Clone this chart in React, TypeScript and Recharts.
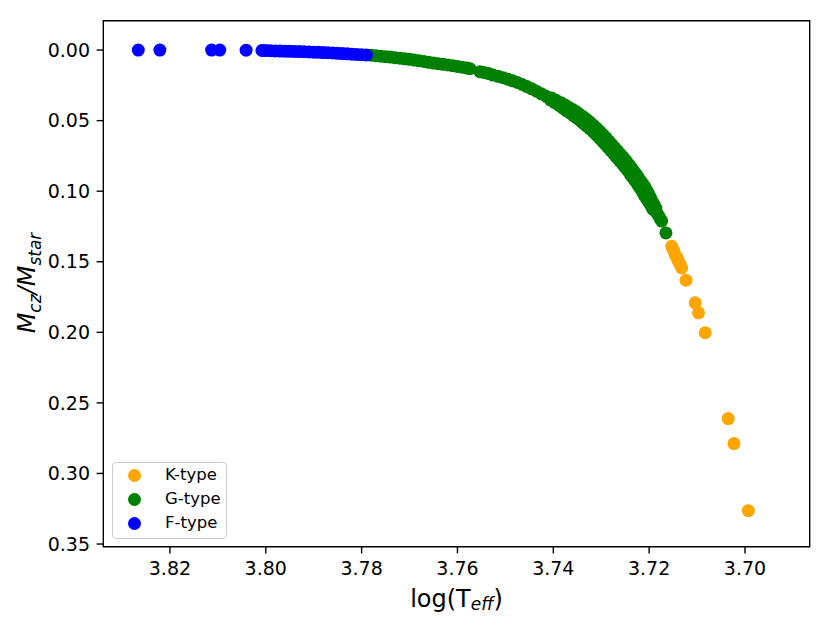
import React from 'react';
import { ScatterChart, Scatter, XAxis, YAxis, Legend, ReferenceArea } from 'recharts';

// ---- data (log Teff, Mcz/Mstar) ----
const kTypePoints: number[][] = [
  [3.7153, 0.1391], [3.7149, 0.1420], [3.7146, 0.1449], [3.7142, 0.1473],
  [3.7139, 0.1497], [3.7135, 0.1520], [3.7132, 0.1544], [3.7123, 0.1631],
  [3.7104, 0.1791], [3.7097, 0.1862], [3.7083, 0.2003], [3.7035, 0.2611],
  [3.7023, 0.2788], [3.6993, 0.3264],
];

const gTypePoints: number[][] = [
  [3.7780, 0.0036], [3.7770, 0.0040], [3.7760, 0.0044], [3.7750, 0.0047],
  [3.7740, 0.0050], [3.7730, 0.0054], [3.7720, 0.0058], [3.7710, 0.0062],
  [3.7700, 0.0066], [3.7690, 0.0071], [3.7680, 0.0076], [3.7670, 0.0081],
  [3.7660, 0.0087], [3.7650, 0.0092], [3.7640, 0.0097], [3.7630, 0.0101],
  [3.7620, 0.0106], [3.7610, 0.0111], [3.7600, 0.0116], [3.7590, 0.0122],
  [3.7580, 0.0128], [3.7574, 0.0132],
  [3.7553, 0.0153], [3.7545, 0.0159], [3.7535, 0.0167], [3.7526, 0.0177],
  [3.7515, 0.0186], [3.7505, 0.0196], [3.7495, 0.0206], [3.7485, 0.0218],
  [3.7475, 0.0230], [3.7465, 0.0244], [3.7455, 0.0259], [3.7445, 0.0275],
  [3.7435, 0.0292], [3.7425, 0.0310], [3.7415, 0.0328], [3.7405, 0.0346],
  [3.7395, 0.0364], [3.7386, 0.0382], [3.7378, 0.0400], [3.7370, 0.0418],
  [3.7362, 0.0436], [3.7355, 0.0451], [3.7348, 0.0467], [3.7341, 0.0486],
  [3.7334, 0.0505], [3.7327, 0.0525], [3.7320, 0.0545], [3.7313, 0.0566],
  [3.7306, 0.0590], [3.7300, 0.0612], [3.7294, 0.0634], [3.7288, 0.0656],
  [3.7282, 0.0679], [3.7276, 0.0702], [3.7270, 0.0725], [3.7264, 0.0749],
  [3.7258, 0.0773], [3.7252, 0.0796], [3.7246, 0.0820], [3.7241, 0.0843],
  [3.7236, 0.0867], [3.7231, 0.0891], [3.7226, 0.0915], [3.7221, 0.0939],
  [3.7217, 0.0959], [3.7213, 0.0978], [3.7209, 0.1002], [3.7205, 0.1027],
  [3.7201, 0.1051], [3.7197, 0.1076], [3.7193, 0.1100], [3.7189, 0.1124],
  [3.7185, 0.1149], [3.7181, 0.1170], [3.7177, 0.1195], [3.7174, 0.1212],
  [3.7165, 0.1296],
];

// G-type models lying along the outer (upper-right) edge of the band
const gTypeOuterPoints: number[][] = [
  [3.7404, 0.0339], [3.7394, 0.0356], [3.7384, 0.0373], [3.73755, 0.0390],
  [3.7367, 0.0407], [3.73595, 0.0422], [3.7352, 0.0438], [3.7345, 0.0455],
  [3.73375, 0.0473], [3.7330, 0.0492], [3.7323, 0.0512], [3.7316, 0.0533],
  [3.7309, 0.0554], [3.73025, 0.0577], [3.7296, 0.0600], [3.7290, 0.0622],
  [3.7284, 0.0645], [3.7278, 0.0668], [3.7272, 0.0691], [3.7266, 0.0714],
  [3.7260, 0.0738], [3.7254, 0.0761], [3.7248, 0.0785], [3.72425, 0.0809],
  [3.7237, 0.0833], [3.7232, 0.0857], [3.7227, 0.0881], [3.7222, 0.0905],
  [3.7217, 0.0930], [3.7213, 0.0950], [3.7209, 0.0969], [3.7205, 0.0994],
  [3.7201, 0.1019], [3.71975, 0.1044], [3.7194, 0.1070], [3.7190, 0.1094],
  [3.7186, 0.1119],
];

// G-type models lying along the inner (lower-left) edge of the band
const gTypeInnerPoints: number[][] = [
  [3.7406, 0.0354], [3.7397, 0.0373], [3.7388, 0.0392], [3.73805, 0.0410],
  [3.7373, 0.0429], [3.73655, 0.0446], [3.7358, 0.0464], [3.7351, 0.0481],
  [3.73445, 0.0499], [3.7338, 0.0518], [3.7331, 0.0537], [3.7324, 0.0557],
  [3.7317, 0.0578], [3.73105, 0.0601], [3.7304, 0.0624], [3.7298, 0.0645],
  [3.7292, 0.0667], [3.7286, 0.0690], [3.7280, 0.0713], [3.7274, 0.0736],
  [3.7268, 0.0760], [3.7262, 0.0783], [3.7256, 0.0807], [3.72505, 0.0830],
  [3.7245, 0.0853], [3.7240, 0.0877], [3.7235, 0.0901], [3.7230, 0.0924],
  [3.7225, 0.0948], [3.7221, 0.0967], [3.7217, 0.0987], [3.7213, 0.1011],
  [3.7209, 0.1035], [3.72045, 0.1058], [3.7200, 0.1082], [3.7196, 0.1105],
  [3.7192, 0.1129],
];

const fTypePoints: number[][] = [
  [3.8266, 0.0000], [3.8221, 0.0000], [3.8113, 0.0000], [3.8096, 0.0000],
  [3.8041, 0.0001], [3.8008, 0.0003], [3.8000, 0.0004], [3.7990, 0.0005],
  [3.7980, 0.0006], [3.7970, 0.0007], [3.7960, 0.0008], [3.7950, 0.0009],
  [3.7940, 0.0010], [3.7930, 0.0011], [3.7920, 0.0012], [3.7910, 0.0013],
  [3.7900, 0.0015], [3.7890, 0.0016], [3.7880, 0.0018], [3.7870, 0.0019],
  [3.7860, 0.0021], [3.7850, 0.0023], [3.7840, 0.0025], [3.7830, 0.0027],
  [3.7820, 0.0029], [3.7810, 0.0031], [3.7800, 0.0033], [3.7790, 0.0035],
];

const seriesNames = ['K-type', 'G-type', 'F-type'];
const seriesColors = ['#FFA500', '#008000', '#0000FF'];
const seriesPoints = [
  kTypePoints,
  [...gTypeInnerPoints, ...gTypeOuterPoints, ...gTypePoints],
  fTypePoints,
];

const xTicks = [3.70, 3.72, 3.74, 3.76, 3.78, 3.80, 3.82];
const yTicks = [0.00, 0.05, 0.10, 0.15, 0.20, 0.25, 0.30, 0.35];

const X_DOMAIN: [number, number] = [3.6865, 3.8339];
const Y_DOMAIN: [number, number] = [-0.0208, 0.3519];

const FONT = '"DejaVu Sans", sans-serif';

const toRows = (pts: number[][]) => pts.map(([teff, mcz]) => ({ teff, mcz }));

const renderLegend = () => (
  <div
    style={{
      width: 115,
      height: 77,
      boxSizing: 'border-box',
      border: '1px solid #cccccc',
      borderRadius: 4,
      background: 'rgba(255,255,255,0.8)',
      position: 'relative',
      fontFamily: FONT,
      fontSize: 16.5,
      color: '#000',
    }}
  >
    {seriesNames.map((name, i) => (
      <div
        key={name}
        style={{
          position: 'absolute',
          left: 0,
          top: 0.5 + i * 24,
          height: 24,
          display: 'flex',
          alignItems: 'center',
          whiteSpace: 'nowrap',
        }}
      >
        <svg width={13} height={13} style={{ marginLeft: 15.8, display: 'block' }}>
          <circle cx={6.5} cy={6.5} r={6.5} fill={seriesColors[i]} />
        </svg>
        <span style={{ marginLeft: 23.5, lineHeight: '24px' }}>{name}</span>
      </div>
    ))}
  </div>
);

const renderXLabel = (props: any) => {
  const vb = props.viewBox || {};
  const cx = (vb.x ?? 95.3) + (vb.width ?? 706.4) / 2;
  return (
    <text x={cx} y={598.7} textAnchor="middle" fontFamily={FONT} fontSize={24} fill="#000">
      <tspan>log(T</tspan>
      <tspan fontStyle="italic" fontSize={17} dy={3.5}>eff</tspan>
      <tspan dy={-3.5}>)</tspan>
    </text>
  );
};

const renderYLabel = () => {
  const x = 27;
  const y = 275;
  return (
    <text
      x={x}
      y={y}
      transform={`rotate(-90, ${x}, ${y})`}
      textAnchor="middle"
      fontFamily={FONT}
      fontSize={24}
      fill="#000"
      fontStyle="italic"
    >
      <tspan>M</tspan>
      <tspan fontSize={17} dy={5.5}>cz</tspan>
      <tspan dy={-5.5}>/M</tspan>
      <tspan fontSize={17} dy={5.5}>star</tspan>
    </text>
  );
};

export default function App() {
  return (
    <ScatterChart
      width={815}
      height={612}
      margin={{ top: 12.7, right: 13.3, bottom: 0, left: 0 }}
      style={{ background: '#fff' }}
    >
      <XAxis
        type="number"
        dataKey="teff"
        domain={X_DOMAIN}
        allowDataOverflow
        reversed
        ticks={xTicks}
        interval={0}
        tickFormatter={(v: number) => v.toFixed(2)}
        tick={{ fill: '#000', fontSize: 19, fontFamily: FONT }}
        tickSize={6.7}
        tickMargin={8.6}
        tickLine={{ stroke: '#000', strokeWidth: 1.4 }}
        axisLine={false}
        height={73.3}
        label={renderXLabel}
      />
      <YAxis
        type="number"
        dataKey="mcz"
        domain={Y_DOMAIN}
        allowDataOverflow
        reversed
        ticks={yTicks}
        interval={0}
        tickFormatter={(v: number) => v.toFixed(2)}
        tick={{ fill: '#000', fontSize: 19, fontFamily: FONT }}
        tickSize={6.7}
        tickMargin={6.6}
        tickLine={{ stroke: '#000', strokeWidth: 1.4 }}
        axisLine={false}
        width={95.3}
        label={renderYLabel}
      />
      <ReferenceArea
        x1={X_DOMAIN[0]}
        x2={X_DOMAIN[1]}
        y1={Y_DOMAIN[0]}
        y2={Y_DOMAIN[1]}
        fill="none"
        stroke="#000"
        strokeWidth={1.4}
        ifOverflow="visible"
      />
      {seriesNames.map((name, i) => (
        <Scatter
          key={name}
          name={name}
          data={toRows(seriesPoints[i])}
          fill={seriesColors[i]}
          isAnimationActive={false}
          shape={(p: any) => <circle cx={p.cx} cy={p.cy} r={6.5} fill={seriesColors[i]} />}
        />
      ))}
      <Legend
        layout="horizontal"
        verticalAlign="middle"
        align="center"
        content={renderLegend}
        wrapperStyle={{ position: 'absolute', left: 103.7, top: 453.7, width: 'auto', height: 'auto' }}
      />
    </ScatterChart>
  );
}
